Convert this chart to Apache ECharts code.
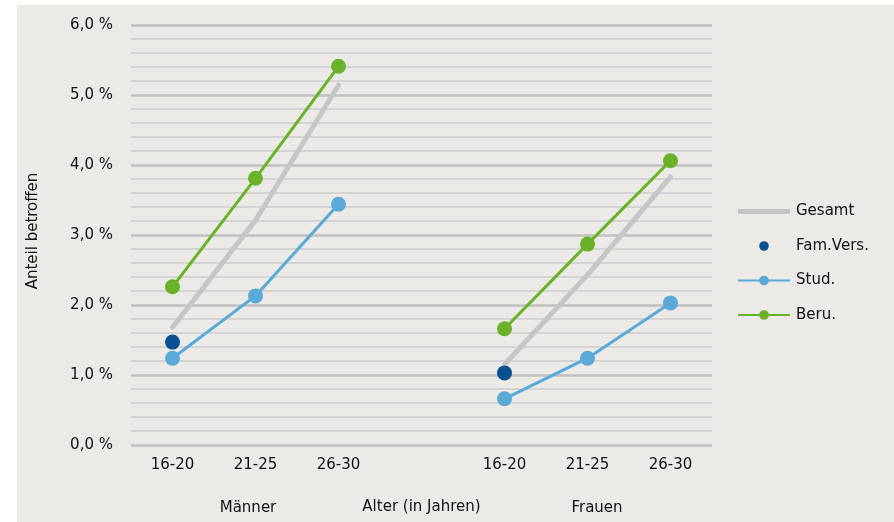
<!DOCTYPE html>
<html>
<head>
<meta charset="utf-8">
<script src="https://cdn.jsdelivr.net/npm/echarts@6/dist/echarts.min.js"></script>
<style>
  html, body { margin: 0; padding: 0; background: #ffffff; }
  #chart { position: absolute; left: 17px; top: 5px; width: 877px; height: 517px; }
</style>
</head>
<body>
<div id="chart"></div>
<script>
// Age groups: men (left block), an empty spacer slot, women (right block)
const categories = ['16-20', '21-25', '26-30', '', '16-20', '21-25', '26-30'];

// Share affected, in percent
const gesamt  = [1.68, 3.21, 5.14, null, 1.15, 2.43, 3.83];
const famVers = [1.47, null, null, null, 1.03, null, null];
const stud    = [1.24, 2.13, 3.44, null, 0.66, 1.24, 2.03];
const beru    = [2.26, 3.81, 5.41, null, 1.66, 2.87, 4.06];

const groupLabels = ['Männer', 'Frauen'];

const FONT = 'DejaVu Sans';
const TEXT = '#111111';

const chart = echarts.init(document.getElementById('chart'), null, { renderer: 'canvas' });

chart.setOption({
  animation: false,
  backgroundColor: '#ebeae6',
  textStyle: { fontFamily: FONT, color: TEXT },
  grid: { left: 114, right: 182, top: 20, bottom: 77, containLabel: false, outerBoundsMode: 'none' },
  xAxis: {
    type: 'category',
    data: categories,
    boundaryGap: true,
    name: 'Alter (in Jahren)',
    nameLocation: 'middle',
    nameGap: 55,
    nameTextStyle: { fontFamily: FONT, fontSize: 15, color: TEXT },
    axisLine: { show: false },
    axisTick: { show: false },
    axisLabel: { margin: 13, fontFamily: FONT, fontSize: 15, color: TEXT, interval: 0 },
    splitLine: { show: false }
  },
  yAxis: {
    type: 'value',
    min: 0,
    max: 6,
    interval: 1,
    name: 'Anteil betroffen',
    nameLocation: 'middle',
    nameGap: 90,
    nameRotate: 90,
    nameTextStyle: { fontFamily: FONT, fontSize: 15, color: TEXT, padding: [0, 0, 0, 8] },
    axisLine: { show: false },
    axisTick: { show: false },
    axisLabel: {
      margin: 18,
      fontFamily: FONT,
      fontSize: 15,
      color: TEXT,
      formatter: v => v.toFixed(1).replace('.', ',') + ' %'
    },
    splitLine: { show: true, lineStyle: { color: '#c0c0c0', width: 2.5 } },
    minorTick: { show: false, splitNumber: 5 },
    minorSplitLine: { show: true, lineStyle: { color: '#d4d4d4', width: 2 } }
  },
  legend: {
    orient: 'vertical',
    left: 715,
    top: 194,
    itemWidth: 52,
    itemHeight: 12,
    itemGap: 19.5,
    textStyle: { fontFamily: FONT, fontSize: 15, color: TEXT, padding: [0, 0, 0, 1] },
    data: [
      { name: 'Gesamt', icon: 'path://M0,0H52V5H0Z' },
      { name: 'Fam.Vers.' },
      { name: 'Stud.' },
      { name: 'Beru.' }
    ]
  },
  // Block captions under the men's and women's groups
  graphic: [
    { type: 'text', x: 231, y: 496, style: { text: groupLabels[0], font: '15px "DejaVu Sans"', fill: TEXT, align: 'center', verticalAlign: 'top' } },
    { type: 'text', x: 580, y: 496, style: { text: groupLabels[1], font: '15px "DejaVu Sans"', fill: TEXT, align: 'center', verticalAlign: 'top' } }
  ],
  series: [
    {
      name: 'Gesamt',
      type: 'line',
      data: gesamt,
      symbol: 'none',
      z: 1,
      lineStyle: { color: '#c6c6c6', width: 5, cap: 'round', join: 'round' },
      itemStyle: { color: '#c6c6c6' },
      emphasis: { disabled: true }
    },
    {
      name: 'Stud.',
      type: 'line',
      data: stud,
      symbol: 'circle',
      symbolSize: 15,
      z: 2,
      lineStyle: { color: '#5aaad7', width: 3 },
      itemStyle: { color: '#5aaad7' },
      emphasis: { disabled: true }
    },
    {
      name: 'Beru.',
      type: 'line',
      data: beru,
      symbol: 'circle',
      symbolSize: 15,
      z: 3,
      lineStyle: { color: '#6ab228', width: 3 },
      itemStyle: { color: '#6ab228' },
      emphasis: { disabled: true }
    },
    {
      name: 'Fam.Vers.',
      type: 'line',
      data: famVers,
      symbol: 'circle',
      symbolSize: 15,
      showAllSymbol: true,
      z: 4,
      lineStyle: { color: '#0a5091', width: 0 },
      itemStyle: { color: '#0a5091' },
      emphasis: { disabled: true }
    }
  ]
});
</script>
</body>
</html>
